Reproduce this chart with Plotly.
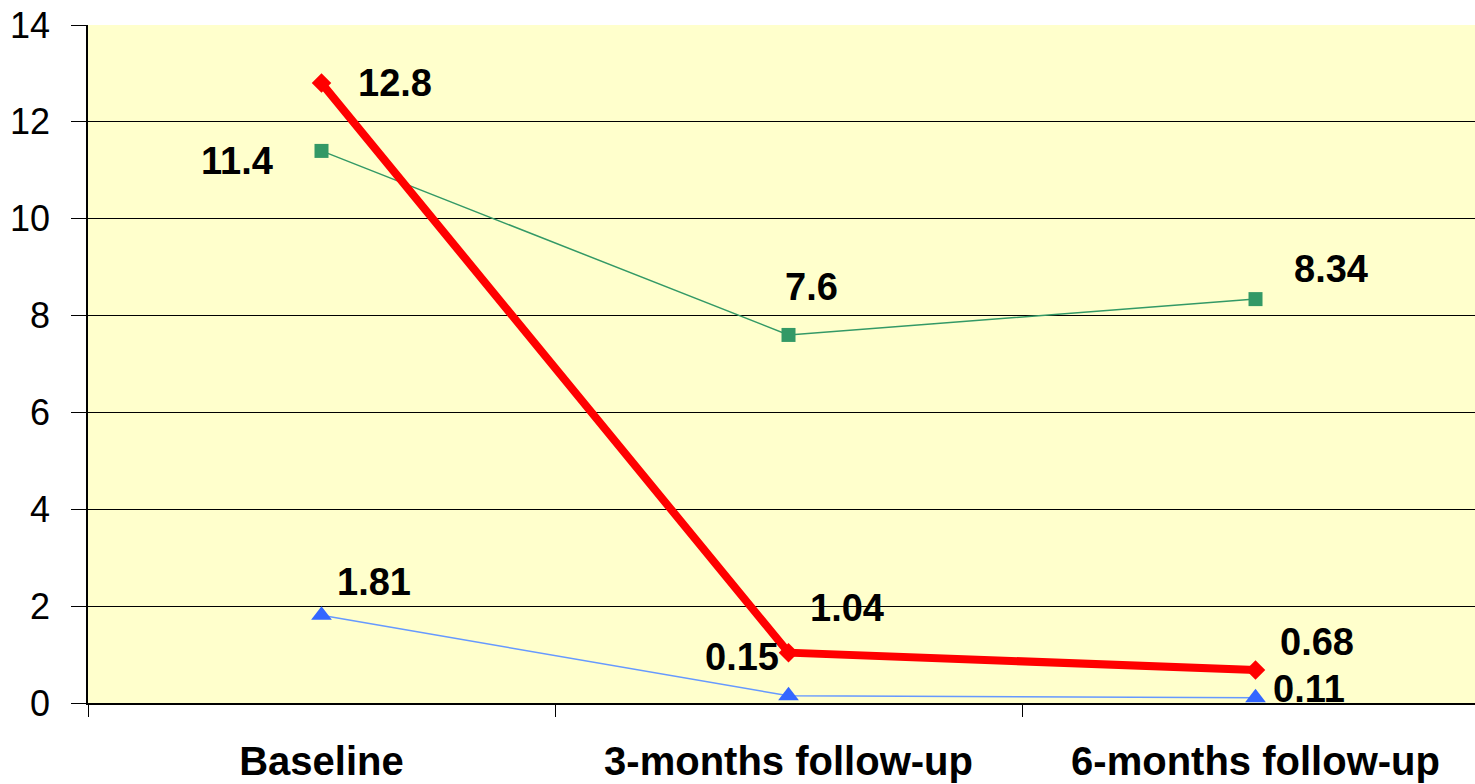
import plotly.graph_objects as go

categories = ["Baseline", "3-months follow-up", "6-months follow-up"]
red_values = [12.8, 1.04, 0.68]
green_values = [11.4, 7.6, 8.34]
blue_values = [1.81, 0.15, 0.11]
red_labels = ["12.8", "1.04", "0.68"]
green_labels = ["11.4", "7.6", "8.34"]
blue_labels = ["1.81", "0.15", "0.11"]
y_ticks = [0, 2, 4, 6, 8, 10, 12, 14]

fig = go.Figure()
fig.add_trace(go.Scatter(x=categories, y=green_values, mode="lines+markers",
                         line=dict(color="#339966", width=1.5),
                         marker=dict(symbol="square", size=14, color="#339966"),
                         showlegend=False))
fig.add_trace(go.Scatter(x=categories, y=blue_values, mode="lines+markers",
                         line=dict(color="#6699FF", width=1.5),
                         marker=dict(symbol="triangle-up", size=18, color="#3366FF"),
                         showlegend=False))
fig.add_trace(go.Scatter(x=categories, y=red_values, mode="lines+markers",
                         line=dict(color="#FF0000", width=8),
                         marker=dict(symbol="diamond", size=15, color="#FF0000"),
                         showlegend=False))

label_font = dict(family="Liberation Sans, Arial", size=38, color="black")
offsets_red = [(73, 0), (58, 45), (61, 28)]
offsets_green = [(-85, -10), (23, 48), (75, 30)]
offsets_blue = [(52, 33), (-47, 39), (53, 9)]
for vals, labs, offs in [(red_values, red_labels, offsets_red),
                         (green_values, green_labels, offsets_green),
                         (blue_values, blue_labels, offsets_blue)]:
    for c, v, t, (dx, dy) in zip(categories, vals, labs, offs):
        fig.add_annotation(x=c, y=v, text="<b>%s</b>" % t, showarrow=False,
                           xshift=dx, yshift=dy, font=label_font,
                           xanchor="center", yanchor="middle")

fig.update_layout(
    width=1475, height=784,
    margin=dict(l=88, r=0, t=25, b=81),
    paper_bgcolor="white",
    plot_bgcolor="#FFFFCC",
    font=dict(family="Liberation Sans, Arial", color="black"),
)
fig.update_xaxes(
    type="category",
    range=[-0.5, 2.47],
    tickson="boundaries",
    ticks="outside", ticklen=12, tickcolor="black", tickwidth=1,
    showgrid=False,
    showline=True, linecolor="black", linewidth=1.5,
    tickfont=dict(family="Liberation Sans, Arial", size=40, color="black", weight="bold"),
    ticklabelstandoff=22,
    automargin=False,
)
fig.update_yaxes(
    range=[0, 14],
    tickvals=y_ticks,
    ticks="outside", ticklen=15, tickcolor="black", tickwidth=1,
    showgrid=True, gridcolor="black", gridwidth=1,
    showline=True, linecolor="black", linewidth=1.5,
    zeroline=False,
    tickfont=dict(family="Liberation Sans, Arial", size=36, color="black"),
    ticklabelstandoff=14,
    automargin=False,
)

fig.write_html("out.html",
               config={"displayModeBar": False},
               post_script="document.body.style.margin='0';document.body.style.overflow='hidden';")
